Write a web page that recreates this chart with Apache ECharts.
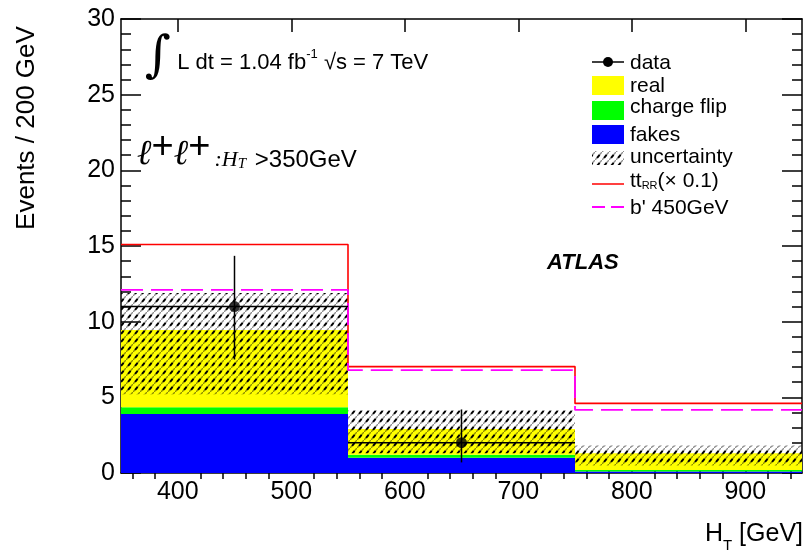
<!DOCTYPE html>
<html><head><meta charset="utf-8">
<script src="https://cdn.jsdelivr.net/npm/echarts@6/dist/echarts.min.js"></script>
<style>html,body{margin:0;padding:0;background:#fff}#c{width:805px;height:552px}</style>
</head><body><div id="c"></div>
<script>
// ---- data ----
const binEdges   = [350, 550, 750, 950];
const fakes      = [3.9, 1.0, 0.1];
const chargeFlip = [0.45, 0.2, 0.1];
const real       = [5.1, 1.7, 1.1];
const uncLow     = [5.2, 1.3, 0.5];
const uncHigh    = [11.9, 4.15, 1.8];
const ttRR       = [15.1, 7.03, 4.6];
const bprime     = [12.1, 6.8, 4.17];
const dataVals   = [11, 2, null];
const dataErrLow = [7.5, 0.7, null];
const dataErrHigh= [14.35, 4.2, null];
const xMajorTicks = [400, 500, 600, 700, 800, 900];
const xMinorTicks = [360, 380, 420, 440, 460, 480, 520, 540, 560, 580, 620, 640, 660, 680,
                     720, 740, 760, 780, 820, 840, 860, 880, 920, 940];

const FONT = "'Liberation Sans', Arial, sans-serif";

function makeHatch() {
  const c = document.createElement('canvas');
  c.width = 7; c.height = 8;
  const g = c.getContext('2d');
  g.strokeStyle = 'rgba(0,0,0,0.45)';
  g.lineWidth = 1.4;
  g.beginPath(); g.moveTo(-1, 8 + 8 / 7); g.lineTo(8, -8 / 7); g.stroke();
  g.strokeStyle = '#000';
  g.lineWidth = 1.9;
  g.beginPath(); g.moveTo(2.1, 5.8); g.lineTo(4.6, 2.8); g.stroke();
  return c;
}
const hatch = makeHatch();

const nb = binEdges.length - 1;
function layer(lowArr, highArr) {
  const out = [];
  for (let i = 0; i < nb; i++) out.push([binEdges[i], binEdges[i + 1], lowArr[i], highArr[i]]);
  return out;
}
const zeros = fakes.map(() => 0);
const cum1 = fakes.slice();
const cum2 = fakes.map((v, i) => v + chargeFlip[i]);
const cum3 = cum2.map((v, i) => v + real[i]);

function rectRender(fill) {
  return function (params, api) {
    const p0 = api.coord([api.value(0), api.value(2)]);
    const p1 = api.coord([api.value(1), api.value(3)]);
    return { type: 'rect',
      shape: { x: p0[0], y: p1[1], width: p1[0] - p0[0], height: p0[1] - p1[1] },
      style: { fill: fill } };
  };
}
function steps(vals) {
  const pts = [];
  vals.forEach((v, i) => { pts.push([binEdges[i], v]); pts.push([binEdges[i + 1], v]); });
  return pts;
}
const dataPts = [], dataErr = [];
for (let i = 0; i < nb; i++) {
  if (dataVals[i] == null) continue;
  const xc = (binEdges[i] + binEdges[i + 1]) / 2;
  dataPts.push([xc, dataVals[i]]);
  dataErr.push([binEdges[i], binEdges[i + 1], dataErrLow[i], dataErrHigh[i], dataVals[i]]);
}

const axLine = { show: true, onZero: false, lineStyle: { color: '#000', width: 1.5 } };
const tickStyle = { color: '#000', width: 1.5 };

const chart = echarts.init(document.getElementById('c'));
chart.setOption({
  animation: false,
  backgroundColor: '#fff',
  grid: { left: 121, right: 3, top: 19, bottom: 79, containLabel: false, outerBoundsMode: 'none' },
  xAxis: [
    { type: 'value', min: 350, max: 950, position: 'bottom', axisLine: axLine,
      axisTick: { show: true, inside: true, length: 15, customValues: xMajorTicks, lineStyle: tickStyle },
      axisLabel: { customValues: xMajorTicks, fontSize: 25, color: '#000', margin: 7, fontFamily: FONT },
      splitLine: { show: false } },
    { type: 'value', min: 350, max: 950, position: 'bottom', axisLine: { show: false },
      axisTick: { show: true, inside: true, length: 8, customValues: xMinorTicks, lineStyle: tickStyle },
      axisLabel: { show: false }, splitLine: { show: false } },
    { type: 'value', min: 350, max: 950, position: 'top', axisLine: axLine,
      axisTick: { show: true, inside: true, length: 13, customValues: xMajorTicks, lineStyle: tickStyle },
      axisLabel: { show: false }, splitLine: { show: false } },
    { type: 'value', min: 350, max: 950, position: 'top', axisLine: { show: false },
      axisTick: { show: true, inside: true, length: 6, customValues: xMinorTicks, lineStyle: tickStyle },
      axisLabel: { show: false }, splitLine: { show: false } }
  ],
  yAxis: [
    { type: 'value', min: 0, max: 30, interval: 5, position: 'left', axisLine: axLine,
      axisTick: { show: true, inside: true, length: 20, lineStyle: tickStyle },
      minorTick: { show: true, splitNumber: 5, length: 10, lineStyle: tickStyle },
      axisLabel: { fontSize: 25, color: '#000', margin: 6, fontFamily: FONT },
      splitLine: { show: false }, minorSplitLine: { show: false } },
    { type: 'value', min: 0, max: 30, interval: 5, position: 'right', axisLine: axLine,
      axisTick: { show: true, inside: true, length: 20, lineStyle: tickStyle },
      minorTick: { show: true, splitNumber: 5, length: 10, lineStyle: tickStyle },
      axisLabel: { show: false }, splitLine: { show: false }, minorSplitLine: { show: false } }
  ],
  series: [
    { type: 'custom', name: 'fakes', renderItem: rectRender('#0000ff'), data: layer(zeros, cum1),
      encode: { x: [0, 1], y: [2, 3] }, z: 1 },
    { type: 'custom', name: 'charge flip', renderItem: rectRender('#00ff00'), data: layer(cum1, cum2),
      encode: { x: [0, 1], y: [2, 3] }, z: 1 },
    { type: 'custom', name: 'real', renderItem: rectRender('#ffff00'), data: layer(cum2, cum3),
      encode: { x: [0, 1], y: [2, 3] }, z: 1 },
    { type: 'custom', name: 'uncertainty', renderItem: rectRender({ image: hatch, repeat: 'repeat' }),
      data: layer(uncLow, uncHigh), encode: { x: [0, 1], y: [2, 3] }, z: 2 },
    { type: 'line', name: 'ttRR', data: steps(ttRR), symbol: 'none', z: 3,
      lineStyle: { color: '#ff0000', width: 1.6 } },
    { type: 'line', name: "b'", data: steps(bprime), symbol: 'none', z: 3,
      lineStyle: { color: '#ff00ff', width: 1.8, type: [22, 8] } },
    { type: 'custom', name: 'dataErr', data: dataErr, encode: { x: [0, 1], y: [2, 3] }, z: 4,
      renderItem: function (params, api) {
        const xc = (api.value(0) + api.value(1)) / 2;
        const a = api.coord([api.value(0), api.value(4)]);
        const b = api.coord([api.value(1), api.value(4)]);
        const lo = api.coord([xc, api.value(2)]);
        const hi = api.coord([xc, api.value(3)]);
        const st = { stroke: '#000', lineWidth: 1.5 };
        return { type: 'group', children: [
          { type: 'line', shape: { x1: a[0], y1: a[1], x2: b[0], y2: b[1] }, style: st },
          { type: 'line', shape: { x1: lo[0], y1: lo[1], x2: hi[0], y2: hi[1] }, style: st }
        ] };
      } },
    { type: 'scatter', name: 'data', data: dataPts, symbol: 'circle', symbolSize: 11, z: 5,
      itemStyle: { color: '#000' } }
  ],
  graphic: [
    // y-axis title
    { type: 'text', x: 27, y: 128, rotation: Math.PI / 2,
      style: { text: 'Events / 200 GeV', font: "26px " + FONT, fill: '#000', align: 'center', verticalAlign: 'middle' } },
    // x-axis title
    { type: 'text', right: 2, top: 522,
      style: { text: '{t|H}{s|T}{t| [GeV]}', fill: '#000',
        rich: { t: { fontSize: 25, fontFamily: FONT, verticalAlign: 'bottom' },
                s: { fontSize: 15, fontFamily: FONT, verticalAlign: 'bottom', padding: [0, 0, -6, 0] } } } },
    // luminosity text
    { type: 'text', x: 145, y: 58,
      style: { text: '{i|∫}{t| L dt = 1.04 fb}{u|-1}{t| √s = 7 TeV}', fill: '#000', verticalAlign: 'middle',
        rich: { i: { fontSize: 50, fontFamily: "'DejaVu Serif'", verticalAlign: 'middle' },
                t: { fontSize: 22, fontFamily: FONT, verticalAlign: 'middle', padding: [10, 0, 0, 0] },
                u: { fontSize: 13, fontFamily: FONT, verticalAlign: 'middle', padding: [0, 0, 8, 0] } } } },
    // channel label
    { type: 'text', x: 137, y: 155,
      style: { text: '{l|ℓ}{p|+}{l|ℓ}{p|+}{c|:}{h|H}{s|T}{t| >350GeV}', fill: '#000', verticalAlign: 'middle',
        rich: { l: { fontSize: 35, fontFamily: "'DejaVu Serif'", fontStyle: 'italic', verticalAlign: 'middle' },
                p: { fontSize: 38, fontFamily: FONT, verticalAlign: 'middle', padding: [0, 0, 14, 0] },
                c: { fontSize: 22, fontFamily: "'Liberation Serif'", fontStyle: 'italic', verticalAlign: 'middle', padding: [10, 0, 0, 4] },
                h: { fontSize: 22, fontFamily: "'Liberation Serif'", fontStyle: 'italic', verticalAlign: 'middle', padding: [10, 0, 0, 0] },
                s: { fontSize: 15, fontFamily: "'Liberation Serif'", fontStyle: 'italic', verticalAlign: 'middle', padding: [19, 0, 0, 0] },
                t: { fontSize: 24, fontFamily: FONT, verticalAlign: 'middle', padding: [10, 0, 0, 2] } } } },
    // ATLAS
    { type: 'text', x: 547, y: 263,
      style: { text: 'ATLAS', font: "italic bold 22px " + FONT, fill: '#000', verticalAlign: 'middle' } },
    // legend
    { type: 'line', shape: { x1: 592, y1: 62, x2: 624, y2: 62 }, style: { stroke: '#000', lineWidth: 1.5 } },
    { type: 'circle', shape: { cx: 608, cy: 62, r: 5 }, style: { fill: '#000' } },
    { type: 'rect', shape: { x: 592, y: 76, width: 32, height: 19 }, style: { fill: '#ffff00' } },
    { type: 'rect', shape: { x: 592, y: 101, width: 32, height: 19 }, style: { fill: '#00ff00' } },
    { type: 'rect', shape: { x: 592, y: 125, width: 32, height: 19 }, style: { fill: '#0000ff' } },
    { type: 'rect', shape: { x: 592, y: 151, width: 32, height: 14 }, style: { fill: { image: hatch, repeat: 'repeat' } } },
    { type: 'line', shape: { x1: 592, y1: 184, x2: 624, y2: 184 }, style: { stroke: '#ff0000', lineWidth: 1.5 } },
    { type: 'line', shape: { x1: 592, y1: 207, x2: 624, y2: 207 }, style: { stroke: '#ff00ff', lineWidth: 1.8, lineDash: [13, 6] } },
    { type: 'text', x: 630, y: 63, style: { text: 'data', font: "21px " + FONT, fill: '#000', verticalAlign: 'middle' } },
    { type: 'text', x: 630, y: 86, style: { text: 'real', font: "21px " + FONT, fill: '#000', verticalAlign: 'middle' } },
    { type: 'text', x: 630, y: 107, style: { text: 'charge flip', font: "21px " + FONT, fill: '#000', verticalAlign: 'middle' } },
    { type: 'text', x: 630, y: 135, style: { text: 'fakes', font: "21px " + FONT, fill: '#000', verticalAlign: 'middle' } },
    { type: 'text', x: 630, y: 157, style: { text: 'uncertainty', font: "21px " + FONT, fill: '#000', verticalAlign: 'middle' } },
    { type: 'text', x: 630, y: 181, style: { text: '{t|tt}{s|RR}{t|(× 0.1)}', fill: '#000', verticalAlign: 'middle',
        rich: { t: { fontSize: 21, fontFamily: FONT, verticalAlign: 'middle' },
                s: { fontSize: 11, fontFamily: FONT, verticalAlign: 'middle', padding: [10, 0, 0, 0] } } } },
    { type: 'text', x: 630, y: 208, style: { text: "b' 450GeV", font: "21px " + FONT, fill: '#000', verticalAlign: 'middle' } }
  ]
});
</script></body></html>
